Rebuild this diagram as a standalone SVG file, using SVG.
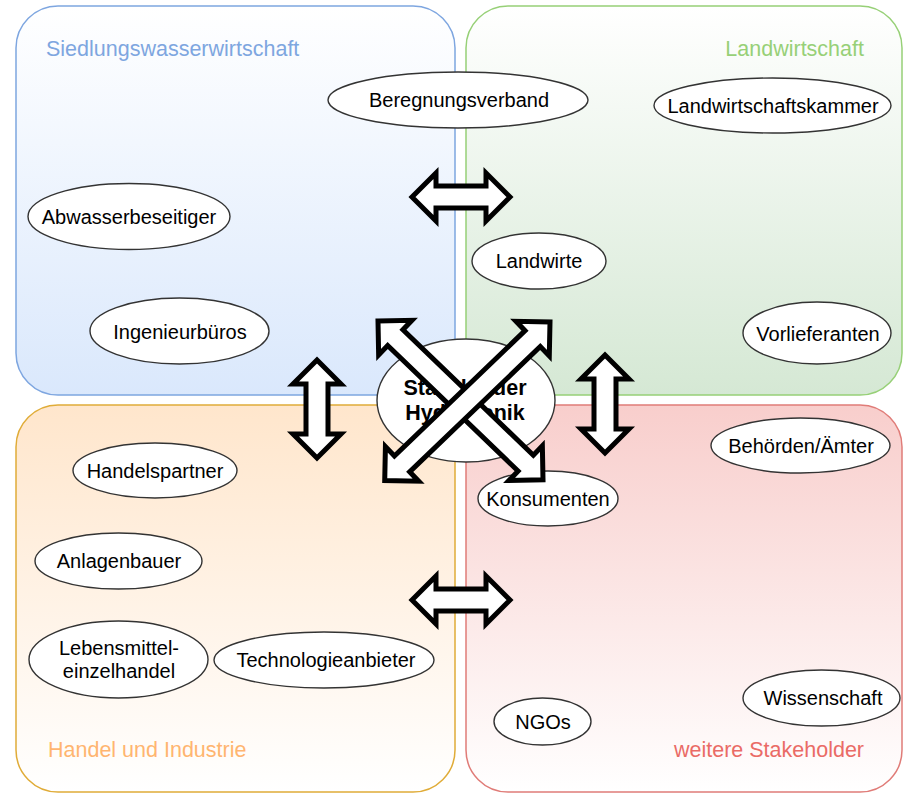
<svg xmlns="http://www.w3.org/2000/svg" width="904" height="793" viewBox="0 0 904 793">
<style>
.box{stroke-width:1.5}
.title{font-family:"Liberation Sans",Arial,sans-serif;font-size:21.5px}
.node ellipse{fill:#fff;stroke:#333;stroke-width:1.4}
.node text{font-family:"Liberation Sans",Arial,sans-serif;font-size:20px;fill:#000;text-anchor:middle}
.arrow{fill:#fff;stroke:#000;stroke-width:5;stroke-linejoin:miter}
</style>
<defs>
<linearGradient id="gBlue" x1="0" y1="0" x2="0" y2="1"><stop offset="0" stop-color="#ffffff"/><stop offset="1" stop-color="#dae8fc"/></linearGradient>
<linearGradient id="gGreen" x1="0" y1="0" x2="0" y2="1"><stop offset="0" stop-color="#ffffff"/><stop offset="1" stop-color="#d5e8d4"/></linearGradient>
<linearGradient id="gOrange" x1="0" y1="0" x2="0" y2="1"><stop offset="0" stop-color="#ffe6cc"/><stop offset="1" stop-color="#ffffff"/></linearGradient>
<linearGradient id="gRed" x1="0" y1="0" x2="0" y2="1"><stop offset="0" stop-color="#f8cecc"/><stop offset="1" stop-color="#ffffff"/></linearGradient>
<path id="arrShort" d="M0,0 L24,-24 L24,-11 L74,-11 L74,-24 L98,0 L74,24 L74,11 L24,11 L24,24 Z"/>
<path id="arrLong" d="M0,0 L24,-24 L24,-11 L205,-11 L205,-24 L229,0 L205,24 L205,11 L24,11 L24,24 Z"/>
</defs>

<g id="area-siedlung">
<rect class="box" x="16" y="6" width="439" height="389" rx="42" ry="42" fill="url(#gBlue)" stroke="#7ea6e0"/>
<text class="title" x="46" y="56" fill="#7ea6e0">Siedlungswasserwirtschaft</text>
</g>
<g id="area-landwirtschaft">
<rect class="box" x="466" y="6" width="436" height="389" rx="42" ry="42" fill="url(#gGreen)" stroke="#97d077"/>
<text class="title" x="864" y="56" fill="#97d077" text-anchor="end">Landwirtschaft</text>
</g>
<g id="area-handel">
<rect class="box" x="16" y="405" width="439" height="387" rx="42" ry="42" fill="url(#gOrange)" stroke="#e0ac38"/>
<text class="title" x="48" y="757" fill="#ffb570">Handel und Industrie</text>
</g>
<g id="area-weitere">
<rect class="box" x="466" y="405" width="436" height="387" rx="42" ry="42" fill="url(#gRed)" stroke="#e07c78"/>
<text class="title" x="864" y="757" fill="#ea6b66" text-anchor="end">weitere Stakeholder</text>
</g>

<g id="n-beregnungsverband" class="node"><ellipse cx="458" cy="100" rx="130" ry="28"/><text x="459" y="107">Beregnungsverband</text></g>
<g id="n-landwirtschaftskammer" class="node"><ellipse cx="772.5" cy="105.5" rx="118.5" ry="27.5"/><text x="773" y="112.5">Landwirtschaftskammer</text></g>
<g id="n-abwasserbeseitiger" class="node"><ellipse cx="129" cy="216.5" rx="101" ry="33"/><text x="129" y="224">Abwasserbeseitiger</text></g>
<g id="n-landwirte" class="node"><ellipse cx="539" cy="261" rx="67" ry="28"/><text x="539" y="268">Landwirte</text></g>
<g id="n-ingenieurbueros" class="node"><ellipse cx="179.5" cy="331" rx="89.5" ry="33"/><text x="180" y="339">Ingenieurbüros</text></g>
<g id="n-vorlieferanten" class="node"><ellipse cx="817" cy="333" rx="74" ry="31"/><text x="818" y="341">Vorlieferanten</text></g>
<g id="n-center" class="node"><ellipse cx="466" cy="400.5" rx="89" ry="61.5"/><text x="465" y="395" style="font-weight:bold;font-size:21.5px">Stakeholder</text><text x="465" y="420" style="font-weight:bold;font-size:21.5px">Hydroponik</text></g>
<g id="n-handelspartner" class="node"><ellipse cx="155" cy="470.5" rx="82" ry="27.5"/><text x="155" y="478">Handelspartner</text></g>
<g id="n-behoerden" class="node"><ellipse cx="800.5" cy="445.5" rx="89.5" ry="27.5"/><text x="801" y="452.5">Behörden/Ämter</text></g>
<g id="n-konsumenten" class="node"><ellipse cx="548" cy="498.5" rx="70" ry="27.5"/><text x="548" y="506">Konsumenten</text></g>
<g id="n-anlagenbauer" class="node"><ellipse cx="118.5" cy="561" rx="83.5" ry="28"/><text x="119" y="568">Anlagenbauer</text></g>
<g id="n-lebensmittel" class="node"><ellipse cx="118.5" cy="659.5" rx="89.5" ry="38.5"/><text x="119" y="655">Lebensmittel-</text><text x="119" y="678">einzelhandel</text></g>
<g id="n-technologie" class="node"><ellipse cx="324" cy="660" rx="110" ry="28"/><text x="326" y="667">Technologieanbieter</text></g>
<g id="n-wissenschaft" class="node"><ellipse cx="821.5" cy="698" rx="78.5" ry="28"/><text x="823" y="705">Wissenschaft</text></g>
<g id="n-ngos" class="node"><ellipse cx="542.5" cy="721.5" rx="48.5" ry="23.5"/><text x="543" y="729">NGOs</text></g>

<g id="connectors">
<use href="#arrShort" class="arrow" transform="translate(412,197)"/>
<use href="#arrShort" class="arrow" transform="translate(412,600)"/>
<use href="#arrShort" class="arrow" transform="translate(317,360) rotate(90)"/>
<use href="#arrShort" class="arrow" transform="translate(605,355) rotate(90)"/>
<use href="#arrLong" class="arrow" transform="translate(378,321) rotate(43.9)"/>
<use href="#arrLong" class="arrow" transform="translate(550,322) rotate(136.2)"/>
</g>
</svg>
